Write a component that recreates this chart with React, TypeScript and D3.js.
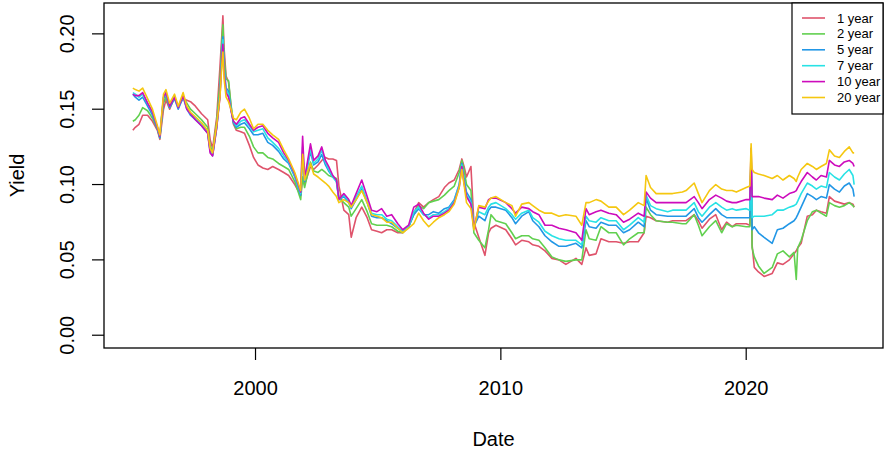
import React, { useRef, useEffect } from 'react';
import * as d3 from 'd3';

// decimal years of the sampled points
const dates = [
  1995.00, 1995.10, 1995.25, 1995.40, 1995.60, 1995.80, 1996.00, 1996.10, 1996.25, 1996.35,
  1996.50, 1996.70, 1996.85, 1997.05, 1997.20, 1997.35, 1997.55, 1997.80, 1998.05, 1998.15,
  1998.25, 1998.42, 1998.55, 1998.63, 1998.67, 1998.72, 1998.80, 1998.90, 1999.00, 1999.10,
  1999.22, 1999.40, 1999.55, 1999.75, 1999.92, 2000.10, 2000.30, 2000.50, 2000.70, 2000.94,
  2001.15, 2001.35, 2001.60, 2001.84, 2001.92, 2002.00, 2002.24, 2002.37, 2002.55, 2002.70,
  2002.85, 2002.98, 2003.15, 2003.30, 2003.40, 2003.60, 2003.80, 2003.90, 2004.10, 2004.33,
  2004.55, 2004.73, 2004.95, 2005.14, 2005.35, 2005.55, 2005.80, 2006.00, 2006.24, 2006.45,
  2006.65, 2006.85, 2007.06, 2007.25, 2007.47, 2007.70, 2007.88, 2008.10, 2008.30, 2008.41,
  2008.50, 2008.60, 2008.78, 2008.90,
  // 2009 - 2020
  2009.10, 2009.35, 2009.50, 2009.60, 2009.80, 2010.20, 2010.45, 2010.60, 2010.85, 2011.14,
  2011.30, 2011.55, 2011.80, 2012.08, 2012.37, 2012.65, 2013.06, 2013.30, 2013.47, 2013.60,
  2013.88, 2014.08, 2014.40, 2014.70, 2015.00, 2015.25, 2015.60, 2015.84, 2015.92, 2016.10,
  2016.33, 2016.80, 2017.00, 2017.40, 2017.55, 2017.88, 2018.05, 2018.20, 2018.50, 2018.76,
  2019.00, 2019.20, 2019.43, 2019.60, 2020.00, 2020.15,
  // 2020 onwards
  2020.20, 2020.24, 2020.33, 2020.50, 2020.73, 2021.06, 2021.27, 2021.50, 2021.76, 2021.95,
  2022.04, 2022.10, 2022.24, 2022.49, 2022.70, 2022.86, 2023.05, 2023.27, 2023.39, 2023.60,
  2023.80, 2024.00, 2024.20, 2024.35, 2024.40,
];

const y1 = [
  .136, .138, .140, .146, .146, .142, .136, .130, .150, .156,
  .150, .158, .152, .157, .156, .155, .152, .147, .143, .130,
  .124, .145, .178, .200, .212, .190, .172, .168, .152, .140,
  .136, .135, .134, .126, .118, .113, .111, .110, .112, .110,
  .108, .106, .100, .093, .105, .100, .112, .110, .113, .116,
  .118, .117, .117, .116, .099, .083, .080, .065, .078, .085,
  .078, .070, .069, .068, .070, .070, .068, .068, .072, .081,
  .088, .085, .088, .090, .092, .098, .101, .103, .110, .117,
  .112, .105, .112, .075,
  .065, .053, .068, .071, .073, .070, .064, .060, .063, .062,
  .060, .059, .056, .051, .050, .047, .051, .047, .058, .053,
  .054, .064, .062, .062, .061, .062, .062, .068, .079, .078,
  .076, .075, .076, .076, .076, .080, .076, .071, .077, .080,
  .070, .075, .072, .074, .074, .073,
  .120, .060, .045, .042, .039, .041, .048, .047, .050, .054,
  .056, .058, .061, .079, .080, .083, .082, .081, .092, .089,
  .088, .087, .088, .087, .085,
];

const y2 = [
  .142, .143, .146, .151, .149, .144, .137, .131, .154, .158,
  .151, .158, .151, .158, .154, .150, .147, .143, .138, .126,
  .121, .142, .168, .195, .206, .185, .170, .169, .153, .141,
  .137, .138, .138, .132, .125, .121, .121, .118, .117, .114,
  .112, .110, .102, .090, .105, .098, .115, .109, .108, .110,
  .108, .106, .105, .104, .091, .088, .085, .079, .084, .090,
  .082, .074, .073, .073, .073, .072, .069, .068, .072, .080,
  .086, .084, .088, .089, .090, .093, .096, .099, .108, .116,
  .110, .100, .096, .068,
  .063, .058, .070, .080, .076, .074, .068, .064, .066, .066,
  .064, .063, .058, .052, .050, .049, .050, .050, .070, .064,
  .063, .072, .068, .068, .060, .064, .068, .068, .085, .080,
  .076, .075, .075, .074, .074, .080, .073, .066, .072, .076,
  .068, .074, .072, .073, .072, .072,
  .118, .058, .052, .046, .041, .045, .054, .056, .052, .055,
  .037, .058, .063, .076, .082, .083, .081, .079, .088, .086,
  .085, .086, .088, .086, .085,
];

const y5 = [
  .160, .158, .156, .158, .152, .146, .137, .131, .157, .160,
  .151, .157, .150, .158, .150, .146, .143, .139, .134, .122,
  .119, .138, .160, .188, .198, .178, .164, .162, .150, .141,
  .138, .140, .141, .137, .133, .133, .134, .128, .126, .122,
  .117, .114, .105, .093, .120, .102, .122, .113, .115, .120,
  .113, .109, .105, .102, .090, .092, .088, .084, .090, .097,
  .088, .079, .078, .078, .076, .074, .071, .069, .072, .080,
  .084, .080, .080, .082, .081, .084, .085, .090, .100, .114,
  .104, .095, .090, .072,
  .079, .076, .083, .085, .085, .083, .078, .074, .079, .082,
  .076, .072, .066, .062, .059, .059, .061, .058, .076, .072,
  .071, .075, .073, .073, .068, .070, .075, .072, .091, .083,
  .080, .079, .079, .079, .079, .084, .078, .075, .080, .084,
  .080, .078, .078, .078, .078, .078,
  .121, .070, .072, .068, .065, .061, .070, .071, .074, .076,
  .078, .080, .085, .094, .092, .090, .092, .091, .100, .097,
  .095, .099, .101, .097, .092,
];

const y7 = [
  .161, .160, .158, .160, .154, .148, .138, .132, .158, .161,
  .152, .158, .151, .159, .151, .147, .144, .140, .135, .123,
  .120, .139, .160, .186, .196, .176, .163, .160, .150, .142,
  .139, .142, .143, .139, .135, .136, .137, .131, .128, .124,
  .119, .115, .106, .094, .125, .103, .124, .114, .117, .123,
  .115, .110, .105, .102, .090, .093, .089, .085, .092, .099,
  .089, .081, .080, .080, .077, .076, .072, .069, .072, .082,
  .085, .080, .078, .080, .080, .082, .084, .089, .099, .113,
  .102, .093, .088, .072,
  .082, .080, .085, .087, .088, .084, .080, .077, .081, .083,
  .078, .075, .069, .066, .064, .063, .063, .060, .079, .076,
  .075, .078, .076, .076, .070, .073, .078, .075, .093, .086,
  .084, .082, .083, .083, .083, .088, .082, .079, .085, .088,
  .085, .083, .084, .083, .084, .083,
  .122, .078, .079, .079, .079, .080, .083, .083, .085, .086,
  .087, .089, .094, .101, .099, .097, .099, .098, .108, .105,
  .103, .107, .110, .106, .100,
];

const y10 = [
  .160, .159, .159, .161, .154, .148, .138, .132, .158, .161,
  .152, .158, .151, .159, .150, .147, .143, .139, .134, .121,
  .119, .138, .158, .184, .193, .174, .161, .158, .149, .142,
  .140, .144, .145, .140, .136, .138, .139, .134, .131, .128,
  .121, .116, .107, .095, .132, .104, .127, .116, .119, .125,
  .116, .112, .106, .103, .090, .094, .090, .086, .094, .103,
  .092, .083, .082, .084, .079, .080, .074, .070, .073, .085,
  .087, .081, .077, .079, .079, .081, .083, .088, .098, .112,
  .101, .092, .087, .071,
  .085, .084, .090, .091, .091, .088, .084, .081, .085, .084,
  .082, .080, .073, .073, .071, .070, .068, .063, .084, .080,
  .082, .083, .081, .080, .075, .077, .081, .079, .095, .091,
  .088, .088, .088, .088, .088, .092, .088, .084, .090, .093,
  .091, .089, .088, .088, .090, .090,
  .124, .092, .092, .092, .091, .090, .093, .091, .094, .095,
  .096, .098, .102, .108, .105, .103, .106, .105, .116, .113,
  .112, .115, .116, .114, .112,
];

const y20 = [
  .164, .163, .162, .164, .157, .150, .139, .133, .160, .163,
  .154, .160, .152, .161, .152, .148, .145, .141, .136, .124,
  .121, .140, .158, .180, .188, .170, .158, .155, .150, .144,
  .143, .148, .150, .144, .137, .140, .140, .136, .133, .130,
  .123, .117, .108, .096, .120, .103, .114, .107, .105, .103,
  .101, .099, .095, .092, .088, .090, .088, .085, .090, .096,
  .088, .080, .079, .078, .075, .075, .071, .068, .071, .074,
  .081, .076, .072, .075, .078, .080, .082, .087, .098, .110,
  .100, .088, .084, .070,
  .086, .085, .089, .091, .092, .088, .086, .079, .087, .088,
  .086, .083, .081, .081, .079, .080, .079, .073, .088, .088,
  .090, .089, .085, .085, .080, .083, .088, .086, .106, .098,
  .094, .094, .094, .095, .096, .101, .094, .088, .096, .100,
  .097, .096, .096, .095, .098, .099,
  .127, .110, .108, .107, .106, .104, .106, .103, .106, .104,
  .102, .105, .110, .114, .112, .110, .112, .114, .123, .119,
  .118, .122, .125, .121, .121,
];

const seriesNames = ['1 year', '2 year', '5 year', '7 year', '10 year', '20 year'];
const seriesValues = [y1, y2, y5, y7, y10, y20];
const seriesColors = ['#DF536B', '#61D04F', '#2297E6', '#28E2E5', '#CD0BBC', '#F5C710'];
const xTicks = [2000, 2010, 2020];
const yTicks = [0, 0.05, 0.1, 0.15, 0.2];

const FONT = '"Liberation Sans", Arial, Helvetica, sans-serif';

const YieldChart = () => {
  const svgRef = useRef(null);

  useEffect(() => {
    const width = 884;
    const height = 450;
    const box = { left: 104, right: 883, top: 3, bottom: 348 };

    const svg = d3.select(svgRef.current)
      .attr('width', width)
      .attr('height', height)
      .style('font-family', FONT);
    svg.selectAll('*').remove();

    // R style 4% padding on both axes
    const [x0, x1] = d3.extent(dates);
    const xPad = (x1 - x0) * 0.04;
    const xScale = d3.scaleLinear()
      .domain([x0 - xPad, x1 + xPad])
      .range([box.left, box.right]);

    const yMax = d3.max(seriesValues, (s) => d3.max(s));
    const yPad = yMax * 0.04;
    const yScale = d3.scaleLinear()
      .domain([-yPad, yMax + yPad])
      .range([box.bottom, box.top]);

    // lines
    const line = d3.line()
      .x((d) => xScale(d[0]))
      .y((d) => yScale(d[1]));

    seriesValues.forEach((vals, i) => {
      svg.append('path')
        .datum(dates.map((t, j) => [t, vals[j]]))
        .attr('fill', 'none')
        .attr('stroke', seriesColors[i])
        .attr('stroke-width', 1.6)
        .attr('stroke-linejoin', 'round')
        .attr('d', line);
    });

    // plot box
    svg.append('rect')
      .attr('x', box.left)
      .attr('y', box.top)
      .attr('width', box.right - box.left)
      .attr('height', box.bottom - box.top)
      .attr('fill', 'none')
      .attr('stroke', '#000')
      .attr('stroke-width', 1.3);

    // x axis
    const xg = svg.append('g');
    xg.selectAll('line')
      .data(xTicks)
      .join('line')
      .attr('x1', (d) => xScale(d))
      .attr('x2', (d) => xScale(d))
      .attr('y1', box.bottom)
      .attr('y2', box.bottom + 12)
      .attr('stroke', '#000')
      .attr('stroke-width', 1.2);
    xg.selectAll('text')
      .data(xTicks)
      .join('text')
      .attr('x', (d) => xScale(d))
      .attr('y', 395)
      .attr('text-anchor', 'middle')
      .attr('font-size', 20)
      .text((d) => d);

    // y axis
    const yg = svg.append('g');
    yg.selectAll('line')
      .data(yTicks)
      .join('line')
      .attr('x1', box.left)
      .attr('x2', box.left - 12)
      .attr('y1', (d) => yScale(d))
      .attr('y2', (d) => yScale(d))
      .attr('stroke', '#000')
      .attr('stroke-width', 1.2);
    yg.selectAll('text')
      .data(yTicks)
      .join('text')
      .attr('transform', (d) => `translate(74,${yScale(d)}) rotate(-90)`)
      .attr('text-anchor', 'middle')
      .attr('font-size', 20)
      .text((d) => d3.format('.2f')(d));

    // axis titles
    svg.append('text')
      .attr('x', (box.left + box.right) / 2)
      .attr('y', 446)
      .attr('text-anchor', 'middle')
      .attr('font-size', 20)
      .text('Date');
    svg.append('text')
      .attr('transform', `translate(24,${(box.top + box.bottom) / 2}) rotate(-90)`)
      .attr('text-anchor', 'middle')
      .attr('font-size', 20)
      .text('Yield');

    // legend, top right inside the box
    const legend = svg.append('g');
    legend.append('rect')
      .attr('x', 792)
      .attr('y', box.top)
      .attr('width', box.right - 792)
      .attr('height', 111)
      .attr('fill', '#fff')
      .attr('stroke', '#000')
      .attr('stroke-width', 1.2);
    const rows = legend.selectAll('g.row')
      .data(seriesNames)
      .join('g')
      .attr('class', 'row')
      .attr('transform', (d, i) => `translate(0,${18 + i * 15.9})`);
    rows.append('line')
      .attr('x1', 802)
      .attr('x2', 825)
      .attr('stroke', (d, i) => seriesColors[i])
      .attr('stroke-width', 1.6);
    rows.append('text')
      .attr('x', 837)
      .attr('dy', '0.35em')
      .attr('font-size', 13)
      .text((d) => d);
  }, []);

  return <svg ref={svgRef} style={{ position: 'absolute', left: 0, top: 0 }}></svg>;
};

export default function App() {
  return <YieldChart />;
}
